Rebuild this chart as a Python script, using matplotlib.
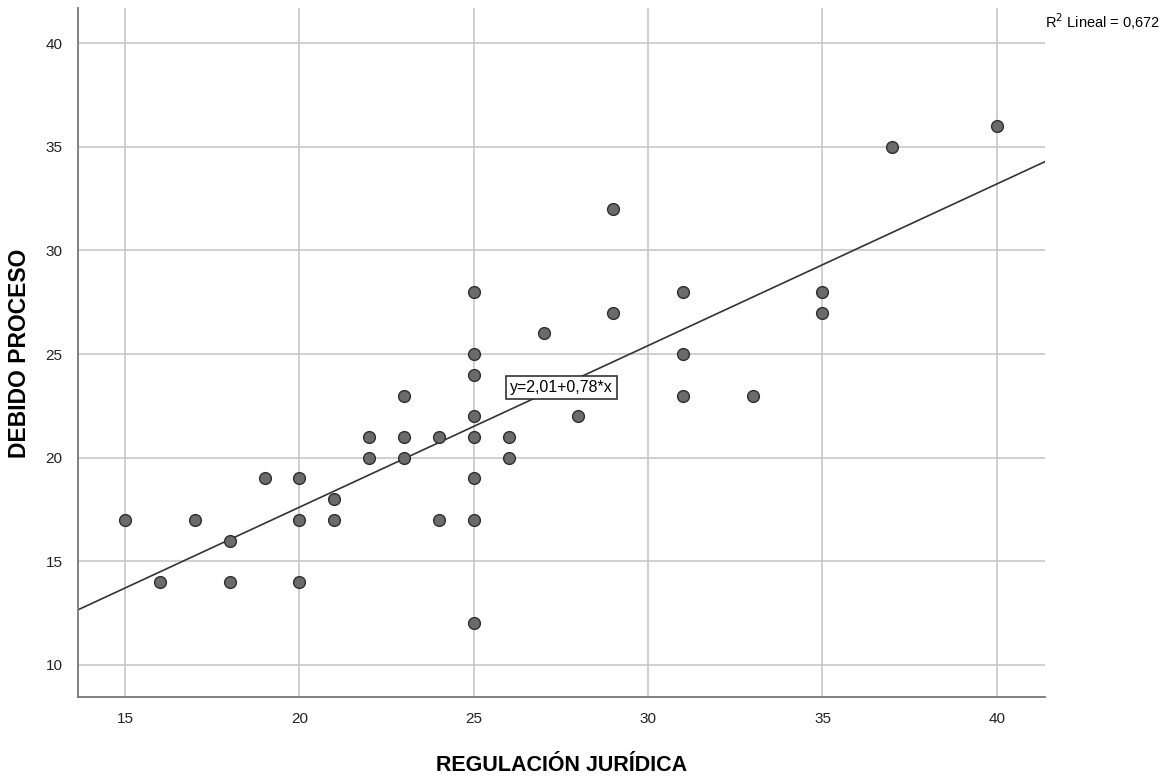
import numpy as np
import matplotlib.pyplot as plt

plt.rcParams['font.family'] = ['Liberation Sans', 'DejaVu Sans']

# data
regulacion = [15, 16, 17, 18, 18, 19, 20, 20, 20, 21, 21, 22, 22, 23, 23, 23, 24, 24,
              25, 25, 25, 25, 25, 25, 25, 25, 26, 26, 27, 28, 29, 29, 31, 31, 31, 33,
              35, 35, 37, 40]
debido = [17, 14, 17, 16, 14, 19, 19, 17, 14, 18, 17, 21, 20, 23, 21, 20, 21, 17,
          28, 25, 24, 22, 21, 19, 17, 12, 21, 20, 26, 22, 32, 27, 28, 25, 23, 23,
          28, 27, 35, 36]
intercept = 2.01
slope = 0.78
r2_label = 'R$^2$ Lineal = 0,672'
eq_label = 'y=2,01+0,78*x'

x_lim = (13.65, 41.38)
y_lim = (8.45, 41.7)

fig = plt.figure(figsize=(11.69, 7.8), dpi=100)
ax = fig.add_axes([0.0667, 0.1064, 0.8272, 0.8833])

ax.set_xlim(*x_lim)
ax.set_ylim(*y_lim)
ax.set_xticks([15, 20, 25, 30, 35, 40])
ax.set_yticks([10, 15, 20, 25, 30, 35, 40])
ax.grid(True, color='#c8c8c8', linewidth=1.2)
ax.set_axisbelow(True)
ax.tick_params(length=0, pad=11, labelsize=11, colors='#222222')

for s in ['top', 'right']:
    ax.spines[s].set_visible(False)
for s in ['left', 'bottom']:
    ax.spines[s].set_color('#777777')
    ax.spines[s].set_linewidth(1.3)

xs = np.array(x_lim)
ax.plot(xs, intercept + slope * xs, color='#333333', linewidth=1.2, zorder=2)

ax.scatter(regulacion, debido, s=72, facecolor='#6b6b6b', edgecolor='#2e2e2e',
           linewidth=1.0, zorder=3)

ax.text(27.52, 23.37, eq_label, ha='center', va='center', fontsize=11.5, zorder=4,
        bbox=dict(boxstyle='square,pad=0.25', facecolor='white', edgecolor='#333333',
                  linewidth=1.2))

fig.text(0.894, 0.972, r2_label, ha='left', va='center', fontsize=10.5)

# axis titles placed like the SPSS output
fig.text(0.48, 0.018, 'REGULACIÓN JURÍDICA', ha='center', va='center',
         fontsize=15.5, fontweight='bold')
fig.text(0.017, 0.547, 'DEBIDO PROCESO', ha='center', va='center', rotation=90,
         fontsize=16.5, fontweight='bold')

fig.savefig('out.png', dpi=100)
